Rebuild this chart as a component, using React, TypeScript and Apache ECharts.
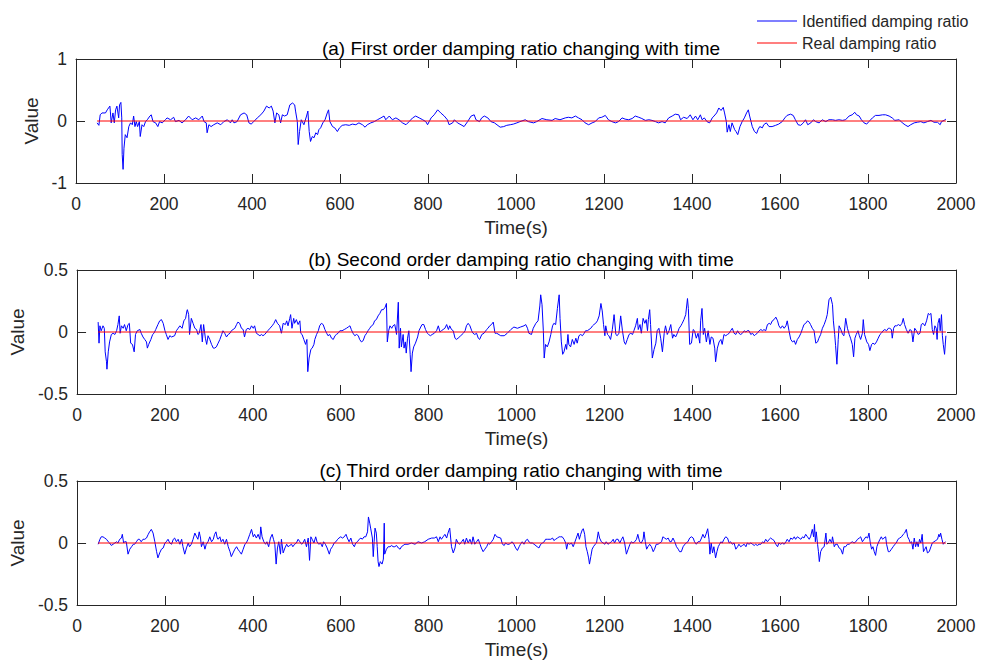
import React, { useEffect, useRef } from "react";
import * as echarts from "echarts";

const panelTitles = [
  "(a) First order damping ratio changing with time",
  "(b) Second order damping ratio changing with time",
  "(c) Third order damping ratio changing with time",
];
const xTicks = { min: 0, max: 2000, interval: 200 };
const yRanges = [
  { min: -1, max: 1, interval: 1 },
  { min: -0.5, max: 0.5, interval: 0.5 },
  { min: -0.5, max: 0.5, interval: 0.5 },
];
const realTimes = [48, 1977];
const realValue = 0;

const identifiedA: number[][] = [
  [48, -0.03], [52, -0.07], [55, 0.10], [59, 0.13], [67, 0.13], [71, 0.18], [74, 0.21], [77, 0.24], [78, 0.16], [80, -0.03], [84, 0.13], [87, -0.03], [90, 0.18], [93, 0.24], [97, 0.05], [99, 0.26], [102, 0.30], [104, 0.05], [105, -0.54], [107, -0.78], [109, -0.44], [112, -0.22], [116, -0.27], [120, -0.09], [124, -0.03], [128, -0.06], [131, 0.08], [134, -0.09], [137, -0.01], [140, -0.09], [144, -0.01], [146, -0.25], [150, -0.06], [154, -0.09], [158, -0.01], [162, 0.02], [168, 0.08], [171, 0.10], [175, -0.01], [181, -0.03], [186, -0.09], [190, -0.01], [196, -0.03], [203, 0.02], [207, 0.05], [215, 0.02], [222, 0.06], [226, -0.01], [234, 0.01], [241, -0.03], [249, 0.02], [256, 0.08], [264, 0.02], [272, 0.05], [279, 0.02], [287, 0.08], [291, -0.01], [296, -0.03], [298, -0.19], [302, -0.06], [307, -0.09], [313, -0.06], [321, -0.03], [329, -0.06], [336, -0.01], [344, 0.02], [351, -0.03], [355, 0.02], [359, -0.03], [366, -0.01], [374, 0.10], [382, 0.13], [388, 0.10], [393, -0.03], [398, -0.05], [404, -0.01], [412, 0.05], [420, 0.10], [427, 0.16], [433, 0.24], [439, 0.21], [444, 0.24], [448, 0.16], [452, -0.03], [456, 0.13], [461, 0.10], [465, -0.03], [469, 0.10], [474, 0.08], [480, 0.10], [486, 0.26], [492, 0.29], [497, 0.26], [499, 0.16], [503, -0.01], [505, -0.38], [508, -0.17], [512, 0.02], [518, -0.06], [524, 0.08], [527, 0.16], [530, -0.17], [533, -0.33], [537, -0.25], [541, -0.27], [545, -0.19], [549, -0.22], [552, -0.14], [556, -0.11], [561, -0.03], [566, 0.02], [571, 0.13], [574, 0.18], [577, -0.01], [583, -0.09], [588, -0.11], [594, -0.17], [599, -0.11], [605, -0.07], [613, -0.06], [621, -0.07], [628, -0.05], [636, -0.06], [643, -0.03], [651, -0.06], [657, -0.10], [662, -0.06], [670, -0.03], [678, -0.01], [685, 0.02], [693, 0.05], [700, 0.08], [704, 0.02], [712, 0.08], [719, 0.02], [727, 0.05], [734, 0.02], [742, -0.03], [750, -0.06], [757, -0.01], [765, 0.05], [772, 0.08], [780, 0.05], [788, 0.02], [795, -0.01], [799, -0.06], [807, 0.05], [814, 0.10], [822, 0.18], [829, 0.13], [837, 0.08], [844, 0.02], [848, -0.06], [856, -0.03], [860, 0.02], [867, -0.03], [875, -0.06], [882, -0.09], [890, -0.01], [898, 0.08], [905, 0.10], [909, 0.02], [917, -0.01], [922, 0.05], [928, 0.08], [936, 0.05], [943, -0.01], [951, -0.03],
  [964, -0.10], [972, -0.09], [979, -0.07], [987, -0.06], [994, -0.05], [1002, -0.03], [1009, -0.01], [1021, 0.02], [1028, -0.01], [1040, -0.03], [1047, -0.01], [1059, 0.04], [1070, 0.02], [1082, 0.01], [1089, 0.04], [1100, 0.02], [1112, 0.05], [1119, 0.06], [1127, 0.05], [1135, 0.08], [1142, 0.05], [1150, 0.02], [1157, -0.03], [1165, -0.06], [1173, -0.03], [1180, -0.01], [1188, 0.05], [1195, 0.06], [1203, 0.09], [1210, 0.02], [1218, -0.01], [1226, -0.03], [1233, -0.01], [1241, 0.05], [1248, 0.03], [1256, 0.02], [1264, 0.04], [1271, 0.08], [1279, 0.06], [1286, 0.04], [1294, 0.01], [1302, 0.02], [1309, 0.01], [1317, -0.01], [1324, -0.03], [1332, -0.01], [1339, -0.03], [1347, 0.05], [1355, 0.08], [1362, 0.11], [1370, 0.10], [1374, 0.02], [1381, 0.06], [1389, 0.04], [1396, 0.10], [1402, 0.02], [1408, 0.08], [1413, 0.02], [1419, 0.10], [1423, 0.02], [1428, 0.05], [1434, -0.01], [1440, -0.03], [1446, 0.05], [1450, 0.08], [1456, 0.13], [1461, 0.21], [1466, 0.17], [1471, 0.22], [1474, 0.13], [1478, -0.01], [1480, -0.18], [1484, -0.06], [1487, -0.17], [1491, -0.03], [1497, -0.14], [1500, -0.17], [1504, -0.22], [1509, -0.09], [1514, -0.01], [1519, 0.05], [1524, 0.13], [1528, 0.18], [1531, 0.08], [1537, -0.09], [1542, -0.17], [1547, -0.20], [1550, -0.14], [1554, -0.09], [1560, -0.11], [1563, -0.06], [1569, -0.03], [1575, -0.09], [1582, -0.09], [1590, -0.07], [1597, -0.05], [1605, -0.01], [1611, 0.05], [1616, 0.09], [1624, 0.11], [1630, 0.09], [1635, 0.02], [1641, -0.06], [1647, -0.07], [1653, -0.03], [1658, 0.02], [1663, -0.06], [1670, -0.03], [1676, 0.02], [1681, -0.01], [1689, -0.03], [1696, 0.02], [1704, -0.01], [1711, 0.02], [1719, 0.02], [1726, 0.01], [1734, 0.02], [1742, 0.01], [1749, 0.02], [1757, 0.08], [1764, 0.10], [1770, 0.14], [1774, 0.10], [1780, 0.08], [1785, 0.02], [1791, -0.03], [1797, -0.05], [1802, -0.01], [1810, 0.05], [1817, 0.09], [1825, 0.09], [1833, 0.10], [1840, 0.10], [1848, 0.08], [1855, 0.05], [1861, 0.01], [1871, 0.02], [1878, -0.03], [1886, -0.07], [1891, -0.09], [1897, -0.06], [1905, -0.03], [1912, -0.02], [1920, -0.01], [1927, -0.03], [1935, -0.01], [1943, 0.01], [1950, -0.02], [1958, -0.02], [1964, -0.06], [1967, -0.01], [1973, 0.01], [1977, 0.03],
];

const identifiedB: number[][] = [
  [48, 0.08], [50, -0.09], [52, 0.05], [55, 0.01], [57, 0.03], [59, 0.05], [62, 0.03], [64, -0.16], [67, -0.24], [68, -0.30], [71, -0.16], [74, -0.08], [78, -0.02], [82, -0.01], [86, -0.02], [90, 0.01], [93, 0.06], [96, 0.13], [98, -0.01], [101, 0.05], [105, 0.03], [108, 0.06], [112, 0.01], [116, 0.06], [119, 0.07], [122, -0.09], [126, -0.10], [130, -0.16], [133, -0.02], [137, 0.01], [143, 0.02], [146, -0.01], [150, -0.04], [154, -0.06], [158, -0.08], [160, -0.13], [163, -0.10], [168, -0.06], [172, -0.02], [175, -0.01], [179, 0.02], [184, 0.06], [188, 0.09], [192, 0.10], [196, 0.07], [200, 0.01], [203, -0.02], [207, -0.06], [211, -0.03], [215, -0.04], [222, -0.03], [226, 0.01], [230, 0.03], [234, 0.05], [239, 0.03], [243, 0.09], [247, 0.11], [250, 0.17], [251, 0.18], [254, 0.14], [256, -0.02], [260, 0.11], [264, 0.07], [268, 0.03], [272, 0.02], [275, -0.02], [278, -0.01], [282, 0.06], [285, -0.08], [288, 0.06], [292, -0.05], [295, -0.10], [298, -0.03], [302, -0.06], [306, -0.10], [310, -0.13], [313, -0.13], [317, -0.12], [321, -0.09], [325, -0.06], [329, -0.02], [332, 0.01], [336, -0.01], [340, -0.04], [344, -0.02], [348, -0.01], [351, 0.01], [355, 0.02], [359, 0.03], [363, 0.06], [366, 0.08], [370, 0.07], [374, 0.03], [378, 0.02], [381, -0.04], [385, 0.02], [389, 0.03], [393, 0.02], [397, 0.05], [401, 0.03], [404, 0.05], [408, -0.01], [412, -0.02], [416, -0.03], [420, -0.02], [423, -0.03], [427, -0.02], [434, 0.01], [439, 0.03], [444, 0.05], [448, 0.07], [452, 0.10], [456, 0.07], [461, 0.05], [465, -0.01], [469, 0.07], [474, 0.06], [477, 0.09], [480, 0.05], [484, 0.11], [486, 0.14], [489, 0.03], [493, 0.11], [495, 0.07], [499, 0.10], [503, 0.06], [507, 0.09], [509, -0.01], [512, -0.02], [516, -0.06], [520, -0.10], [523, -0.06], [525, -0.32], [528, -0.21], [532, -0.14], [535, -0.13], [539, -0.10], [541, -0.06], [545, -0.02], [549, 0.01], [552, 0.05], [556, 0.07], [560, 0.06], [564, 0.02], [568, -0.01], [571, -0.03], [575, -0.02], [579, -0.05], [583, -0.06], [587, -0.03], [590, -0.02], [594, -0.01], [598, 0.01], [603, 0.01], [608, 0.02], [613, 0.03], [617, 0.04], [621, 0.05], [624, 0.02], [628, -0.01], [632, -0.03], [636, -0.02], [640, -0.03], [643, -0.06], [647, -0.08], [651, -0.07], [655, -0.03], [659, -0.01], [662, 0.01], [666, 0.03], [670, 0.05], [674, 0.06], [677, 0.09], [681, 0.10], [685, 0.13], [689, 0.15], [693, 0.18], [697, 0.18], [701, 0.20], [704, 0.23], [706, -0.08], [709, 0.01], [712, 0.05], [716, 0.03], [719, 0.05], [723, 0.06], [727, -0.02], [731, 0.24], [733, -0.13], [736, 0.03], [738, -0.12], [742, -0.02], [744, -0.13], [747, -0.08], [749, -0.17], [752, -0.05], [755, 0.01], [758, -0.18], [760, -0.32], [763, -0.17], [766, -0.12], [770, -0.09], [775, -0.04], [778, 0.01], [782, 0.04], [785, 0.06], [789, 0.06], [793, 0.02], [797, -0.01], [800, -0.02], [804, -0.03], [808, -0.02], [813, -0.01], [818, 0.01], [822, 0.05], [826, 0.00], [829, 0.01], [833, 0.02], [837, 0.03], [841, 0.06], [845, 0.02], [848, 0.05], [852, 0.02], [856, 0.01], [860, -0.05], [863, -0.06], [867, -0.05], [873, -0.03], [879, -0.01], [883, 0.01], [886, 0.05], [890, 0.07], [894, 0.05], [898, 0.01], [901, -0.01], [905, -0.02], [909, -0.01], [913, -0.05], [916, -0.06], [921, -0.02], [926, -0.01], [932, 0.02], [935, 0.03], [939, 0.05], [943, 0.06], [947, 0.08], [951, -0.01], [955, -0.01],
  [964, -0.03], [972, -0.03], [979, -0.01], [987, 0.02], [994, 0.04], [1002, 0.03], [1009, 0.04], [1017, 0.05], [1021, 0.06], [1025, 0.03], [1028, -0.01], [1034, -0.02], [1038, 0.03], [1044, 0.07], [1049, 0.09], [1053, 0.21], [1055, 0.30], [1058, 0.22], [1061, 0.01], [1063, -0.21], [1066, -0.10], [1070, -0.12], [1074, -0.08], [1078, -0.02], [1082, 0.05], [1085, 0.07], [1089, 0.06], [1093, 0.19], [1097, 0.30], [1099, 0.11], [1102, -0.08], [1105, -0.18], [1108, -0.16], [1112, -0.10], [1114, -0.14], [1117, -0.02], [1119, -0.10], [1123, -0.12], [1127, -0.06], [1131, -0.10], [1135, -0.05], [1138, -0.09], [1142, -0.03], [1146, -0.02], [1150, -0.03], [1154, -0.01], [1157, 0.01], [1161, 0.01], [1165, 0.02], [1169, 0.03], [1173, 0.05], [1176, 0.06], [1180, 0.07], [1184, 0.09], [1188, 0.13], [1192, 0.23], [1195, 0.17], [1198, 0.06], [1201, -0.03], [1203, 0.05], [1207, -0.02], [1210, -0.03], [1214, -0.06], [1218, 0.02], [1222, 0.14], [1226, -0.02], [1229, -0.03], [1233, -0.01], [1237, 0.13], [1241, 0.01], [1245, -0.08], [1248, -0.10], [1252, -0.06], [1256, -0.02], [1260, -0.01], [1264, -0.02], [1267, 0.01], [1271, 0.05], [1275, 0.11], [1277, 0.02], [1281, 0.06], [1284, -0.01], [1288, 0.11], [1292, 0.07], [1295, 0.10], [1298, 0.01], [1300, 0.10], [1303, 0.18], [1305, 0.06], [1309, -0.21], [1313, -0.14], [1317, -0.09], [1320, 0.01], [1324, 0.03], [1328, -0.05], [1332, -0.16], [1336, -0.01], [1339, 0.05], [1343, -0.02], [1347, 0.01], [1351, 0.06], [1355, -0.05], [1358, -0.02], [1362, -0.04], [1366, -0.01], [1370, 0.03], [1374, 0.05], [1377, 0.07], [1381, 0.10], [1385, 0.14], [1389, 0.27], [1391, 0.19], [1394, -0.10], [1398, -0.09], [1402, 0.02], [1405, 0.01], [1409, -0.05], [1413, -0.01], [1417, -0.09], [1419, 0.09], [1422, 0.19], [1425, -0.02], [1428, 0.03], [1432, -0.08], [1436, 0.01], [1440, -0.10], [1443, -0.04], [1447, -0.05], [1451, -0.13], [1453, -0.24], [1457, -0.13], [1461, -0.08], [1465, -0.06], [1468, -0.10], [1472, -0.02], [1476, -0.03], [1480, -0.02], [1484, -0.01], [1487, 0.01], [1491, 0.03], [1495, -0.01], [1499, -0.02], [1503, 0.01], [1506, -0.01], [1510, -0.02], [1514, -0.01], [1518, 0.01], [1522, 0.00], [1525, 0.01], [1529, 0.01], [1533, -0.02], [1537, -0.01], [1541, -0.03], [1544, -0.02], [1548, -0.01], [1552, 0.01], [1556, 0.02], [1560, 0.01], [1563, 0.02], [1567, 0.01], [1571, 0.06], [1575, 0.07], [1578, 0.06], [1582, 0.09], [1586, 0.10], [1590, 0.12], [1594, 0.09], [1597, 0.05], [1601, 0.03], [1605, 0.05], [1609, 0.03], [1613, 0.05], [1616, 0.09], [1620, 0.01], [1624, -0.06], [1628, -0.08], [1632, -0.07], [1635, -0.10], [1639, -0.06], [1643, -0.04], [1647, -0.01], [1651, 0.03], [1654, 0.06], [1658, 0.07], [1662, 0.09], [1666, 0.08], [1669, 0.06], [1673, 0.03], [1677, 0.01], [1681, -0.09], [1685, -0.08], [1688, -0.05], [1692, -0.02], [1696, 0.03], [1700, 0.06], [1704, 0.10], [1707, 0.14], [1711, 0.26], [1715, 0.28], [1719, 0.22], [1721, 0.09], [1724, -0.02], [1726, -0.11], [1729, -0.26], [1732, -0.06], [1734, 0.05], [1738, 0.02], [1742, -0.02], [1745, -0.03], [1749, 0.11], [1753, 0.03], [1757, -0.02], [1760, -0.05], [1764, -0.10], [1767, -0.20], [1770, -0.05], [1773, -0.02], [1777, 0.01], [1780, -0.03], [1783, -0.06], [1787, -0.01], [1789, 0.10], [1792, -0.02], [1797, -0.08], [1801, -0.10], [1804, -0.15], [1808, -0.10], [1811, -0.09], [1815, -0.10], [1819, -0.08], [1823, -0.05], [1827, -0.02], [1830, -0.01], [1834, 0.01], [1838, 0.02], [1842, 0.01], [1846, 0.03], [1849, 0.03], [1853, 0.02], [1855, -0.05], [1858, 0.03], [1861, 0.05], [1865, 0.05], [1869, 0.06], [1873, 0.05], [1877, 0.07], [1880, 0.11], [1883, 0.06], [1887, 0.02], [1891, -0.01], [1895, 0.02], [1899, 0.01], [1902, -0.08], [1906, 0.03], [1910, 0.01], [1914, -0.02], [1918, -0.01], [1921, 0.06], [1925, 0.07], [1929, 0.05], [1933, 0.09], [1937, 0.15], [1940, 0.14], [1943, 0.15], [1946, 0.02], [1949, -0.02], [1952, 0.05], [1955, 0.03], [1957, -0.06], [1959, 0.07], [1962, 0.11], [1964, 0.01], [1967, 0.14], [1969, -0.03], [1971, -0.10], [1974, -0.18], [1977, -0.03],
];

const identifiedC: number[][] = [
  [48, -0.01], [52, 0.03], [55, 0.05], [59, 0.05], [63, 0.04], [67, 0.03], [71, 0.01], [74, 0.00], [78, -0.02], [82, -0.01], [86, 0.00], [90, 0.01], [93, 0.00], [97, 0.03], [101, 0.04], [103, 0.07], [106, 0.00], [108, 0.01], [112, 0.01], [116, -0.09], [120, -0.05], [124, -0.03], [128, -0.01], [131, -0.01], [135, 0.01], [139, 0.03], [142, 0.03], [146, 0.01], [150, 0.03], [154, 0.03], [158, 0.04], [162, 0.07], [165, 0.09], [169, 0.11], [173, 0.08], [177, 0.01], [181, -0.07], [184, -0.12], [188, -0.08], [192, -0.05], [196, -0.04], [200, 0.00], [203, 0.01], [207, 0.03], [211, 0.00], [215, -0.01], [219, 0.03], [222, 0.04], [226, 0.01], [230, 0.03], [234, -0.01], [238, 0.03], [241, -0.03], [245, -0.09], [249, -0.04], [253, 0.00], [256, -0.03], [260, -0.01], [264, 0.03], [268, 0.08], [272, 0.05], [275, 0.03], [278, 0.09], [281, 0.04], [283, -0.03], [287, 0.01], [291, -0.05], [294, -0.01], [298, 0.01], [302, 0.05], [306, 0.01], [310, 0.03], [313, 0.07], [316, 0.09], [319, 0.04], [321, 0.03], [325, 0.05], [328, 0.01], [332, 0.03], [336, -0.01], [340, 0.03], [344, -0.03], [348, -0.07], [351, -0.11], [355, -0.08], [359, -0.05], [363, -0.03], [366, -0.05], [370, -0.07], [374, -0.09], [378, -0.05], [382, -0.01], [385, 0.00], [389, 0.03], [393, 0.07], [397, 0.11], [401, 0.05], [404, 0.07], [408, 0.04], [412, 0.07], [416, 0.03], [418, 0.13], [421, 0.05], [425, 0.01], [429, -0.01], [432, 0.01], [436, -0.03], [440, 0.04], [444, 0.07], [447, 0.03], [450, -0.01], [453, -0.17], [456, -0.04], [459, 0.01], [463, -0.09], [465, 0.03], [469, -0.08], [473, -0.04], [477, -0.01], [480, -0.03], [484, -0.02], [488, -0.01], [491, -0.03], [495, -0.01], [499, 0.00], [503, 0.03], [507, 0.01], [511, -0.01], [514, 0.00], [518, 0.03], [522, -0.03], [526, 0.04], [529, -0.14], [532, 0.05], [535, 0.03], [539, 0.00], [543, 0.05], [546, 0.01], [550, -0.01], [554, 0.00], [558, -0.03], [561, 0.01], [565, -0.01], [569, -0.04], [574, -0.09], [577, -0.05], [581, -0.03], [585, 0.00], [589, 0.01], [593, 0.03], [596, 0.04], [600, 0.05], [604, 0.04], [608, 0.05], [612, 0.07], [615, 0.04], [619, 0.01], [623, 0.04], [627, -0.01], [631, -0.03], [634, 0.00], [638, 0.01], [642, 0.03], [646, 0.04], [649, 0.03], [653, 0.05], [657, 0.05], [661, 0.09], [663, 0.21], [666, 0.16], [668, 0.12], [672, 0.04], [674, -0.11], [676, 0.01], [678, 0.12], [681, 0.08], [683, -0.03], [685, -0.15], [687, -0.19], [690, -0.15], [694, -0.17], [697, -0.13], [699, 0.16], [700, -0.09], [704, -0.05], [708, -0.03], [712, -0.03], [716, -0.02], [719, -0.03], [723, -0.03], [727, -0.02], [731, -0.04], [735, -0.05], [738, -0.03], [742, -0.02], [746, -0.01], [753, -0.01], [761, 0.00], [769, -0.01], [776, 0.01], [784, 0.00], [791, 0.01], [799, 0.03], [807, 0.04], [813, 0.04], [818, 0.05], [822, 0.01], [826, 0.05], [829, 0.03], [833, 0.05], [837, 0.07], [841, 0.04], [844, 0.08], [848, 0.12], [852, -0.03], [856, -0.08], [860, -0.04], [863, 0.03], [867, 0.00], [871, -0.01], [875, 0.01], [879, 0.03], [882, -0.01], [886, 0.04], [890, 0.00], [894, 0.03], [898, -0.01], [901, 0.05], [905, -0.01], [909, 0.01], [913, 0.03], [917, -0.01], [920, -0.04], [924, -0.07], [928, -0.05], [932, -0.03], [936, 0.00], [939, -0.01], [943, 0.01], [947, 0.03], [951, 0.07], [955, 0.05],
  [964, 0.04], [968, -0.01], [972, -0.02], [975, 0.00], [979, -0.01], [983, -0.01], [987, 0.00], [990, 0.01], [994, -0.01], [998, -0.04], [1002, -0.06], [1006, -0.03], [1009, -0.01], [1013, 0.01], [1017, -0.01], [1021, 0.02], [1025, 0.03], [1028, 0.01], [1032, 0.00], [1036, 0.00], [1040, -0.01], [1047, -0.03], [1051, -0.04], [1055, -0.01], [1059, 0.00], [1063, 0.01], [1066, 0.03], [1070, 0.03], [1078, 0.03], [1082, 0.04], [1085, 0.02], [1089, 0.03], [1093, 0.04], [1097, 0.05], [1100, 0.05], [1104, 0.05], [1108, 0.03], [1112, 0.00], [1114, -0.05], [1117, 0.00], [1121, -0.01], [1125, 0.00], [1129, -0.03], [1132, 0.00], [1136, 0.04], [1140, 0.08], [1143, 0.03], [1146, 0.07], [1150, 0.11], [1152, 0.115], [1155, 0.07], [1158, -0.03], [1161, -0.07], [1164, -0.12], [1166, -0.17], [1169, -0.11], [1172, -0.05], [1175, -0.03], [1179, -0.01], [1182, 0.00], [1186, 0.09], [1189, 0.04], [1193, 0.01], [1197, 0.00], [1201, -0.01], [1204, 0.01], [1208, -0.01], [1212, 0.00], [1216, 0.01], [1220, 0.03], [1223, 0.00], [1227, 0.03], [1231, 0.03], [1235, 0.00], [1239, 0.03], [1242, 0.05], [1246, 0.00], [1250, -0.09], [1254, -0.05], [1258, -0.01], [1261, 0.01], [1265, 0.00], [1269, 0.01], [1273, 0.03], [1276, 0.07], [1280, 0.01], [1284, 0.00], [1288, 0.03], [1290, 0.09], [1293, 0.01], [1296, -0.05], [1299, -0.03], [1303, -0.01], [1307, -0.03], [1311, -0.07], [1314, -0.05], [1318, -0.01], [1322, -0.01], [1326, 0.00], [1330, 0.01], [1333, 0.05], [1337, 0.04], [1341, 0.03], [1345, 0.04], [1349, 0.01], [1352, 0.01], [1356, 0.04], [1360, 0.01], [1364, -0.03], [1368, -0.05], [1371, -0.07], [1375, -0.07], [1379, -0.03], [1383, -0.01], [1386, 0.00], [1390, 0.01], [1394, 0.04], [1398, 0.05], [1402, 0.04], [1405, 0.01], [1409, -0.01], [1413, 0.01], [1417, 0.01], [1421, 0.04], [1424, 0.07], [1428, 0.04], [1432, 0.08], [1435, 0.115], [1438, 0.03], [1440, -0.09], [1443, 0.00], [1446, -0.08], [1449, -0.03], [1453, -0.12], [1456, -0.07], [1459, -0.03], [1462, -0.01], [1465, 0.01], [1468, 0.00], [1472, 0.03], [1476, 0.05], [1480, 0.04], [1484, 0.00], [1487, 0.01], [1491, -0.01], [1495, 0.00], [1499, -0.05], [1503, -0.03], [1506, -0.01], [1510, -0.03], [1514, -0.02], [1518, -0.01], [1522, -0.03], [1525, 0.00], [1529, -0.01], [1533, 0.00], [1537, -0.01], [1541, -0.02], [1544, -0.01], [1548, -0.02], [1552, -0.01], [1556, -0.01], [1560, 0.01], [1563, 0.00], [1567, 0.03], [1571, 0.01], [1575, 0.03], [1578, 0.04], [1582, 0.03], [1586, 0.02], [1590, -0.01], [1594, -0.03], [1597, 0.00], [1601, -0.01], [1605, 0.00], [1609, -0.01], [1613, 0.01], [1616, 0.03], [1620, 0.01], [1624, 0.04], [1628, 0.03], [1632, 0.05], [1635, 0.03], [1639, 0.05], [1643, 0.04], [1647, 0.03], [1651, 0.05], [1654, 0.04], [1658, 0.07], [1662, 0.05], [1666, 0.03], [1669, 0.05], [1673, 0.11], [1676, 0.05], [1678, 0.15], [1680, 0.01], [1682, 0.09], [1685, -0.01], [1687, -0.07], [1689, -0.15], [1692, -0.07], [1696, -0.04], [1700, -0.03], [1704, 0.08], [1706, -0.01], [1709, 0.00], [1713, 0.03], [1717, 0.00], [1719, 0.05], [1723, -0.03], [1726, -0.01], [1730, -0.01], [1734, -0.04], [1738, -0.05], [1742, -0.09], [1745, -0.03], [1749, -0.03], [1753, -0.01], [1757, -0.01], [1760, 0.00], [1764, 0.01], [1768, 0.00], [1772, 0.01], [1776, 0.03], [1780, 0.04], [1783, 0.05], [1787, 0.01], [1791, 0.03], [1795, 0.05], [1799, 0.04], [1802, 0.08], [1805, 0.00], [1808, -0.05], [1811, -0.03], [1814, -0.07], [1817, -0.10], [1820, -0.03], [1823, 0.00], [1827, 0.03], [1830, 0.05], [1833, 0.03], [1836, 0.04], [1840, 0.05], [1842, -0.01], [1846, -0.07], [1849, -0.07], [1853, -0.05], [1857, -0.03], [1861, -0.01], [1864, 0.00], [1868, 0.03], [1872, 0.04], [1876, 0.05], [1880, 0.07], [1883, 0.08], [1887, 0.11], [1890, 0.05], [1893, 0.03], [1896, 0.00], [1899, 0.01], [1902, -0.05], [1905, 0.04], [1908, -0.03], [1911, 0.01], [1914, -0.03], [1917, 0.03], [1920, 0.00], [1923, 0.07], [1926, -0.07], [1929, -0.05], [1932, -0.03], [1935, -0.08], [1939, -0.07], [1943, -0.03], [1946, 0.00], [1950, 0.01], [1954, 0.02], [1958, 0.03], [1961, 0.07], [1963, 0.05], [1965, 0.08], [1968, 0.03], [1971, -0.01], [1973, 0.00], [1976, 0.01],
];

const identifiedSeries = [identifiedA, identifiedB, identifiedC];
const legendNames = ["Identified damping ratio", "Real damping ratio"];

const FONT = "'Liberation Sans', Arial, sans-serif";
const AX = "#262626";
const gridTops = [59, 270, 481];
const gridLeft = 76;
const gridWidth = 880;
const gridHeight = 124;

export default function App() {
  const ref = useRef<HTMLDivElement>(null);
  useEffect(() => {
    if (!ref.current) return;
    const chart = echarts.init(ref.current, undefined, { renderer: "svg" });
    const grids: any[] = [];
    const xAxes: any[] = [];
    const yAxes: any[] = [];
    const series: any[] = [];
    const titles: any[] = [];
    const tickStyle = { show: true, inside: true, length: 9, lineStyle: { color: AX, width: 1 } };
    const lineStyle = { color: AX, width: 1 };
    for (let i = 0; i < 3; i++) {
      grids.push({ left: gridLeft, top: gridTops[i], width: gridWidth, height: gridHeight, containLabel: false });
      titles.push({
        text: panelTitles[i],
        left: gridLeft + gridWidth / 2,
        top: gridTops[i] - 25,
        textAlign: "center",
        textStyle: { fontFamily: FONT, fontSize: 19, fontWeight: "normal", color: "#000" },
      });
      xAxes.push({
        type: "value", gridIndex: i, position: "bottom", ...xTicks,
        name: "Time(s)", nameLocation: "middle", nameGap: 35,
        nameTextStyle: { fontFamily: FONT, fontSize: 19, color: AX },
        axisLine: { show: true, onZero: false, lineStyle },
        axisTick: tickStyle,
        axisLabel: { fontFamily: FONT, fontSize: 17.5, color: AX, margin: 12, formatter: (v: number) => String(v) },
        splitLine: { show: false },
      });
      xAxes.push({
        type: "value", gridIndex: i, position: "top", ...xTicks,
        axisLine: { show: true, onZero: false, lineStyle },
        axisTick: tickStyle,
        axisLabel: { show: false },
        splitLine: { show: false },
      });
      yAxes.push({
        type: "value", gridIndex: i, position: "left", ...yRanges[i],
        name: "Value", nameLocation: "middle", nameGap: 31, nameRotate: 90,
        nameTextStyle: { fontFamily: FONT, fontSize: 19, color: AX },
        axisLine: { show: true, onZero: false, lineStyle },
        axisTick: tickStyle,
        axisLabel: { fontFamily: FONT, fontSize: 17.5, color: AX, margin: 9, formatter: (v: number) => String(v) },
        splitLine: { show: false },
      });
      yAxes.push({
        type: "value", gridIndex: i, position: "right", ...yRanges[i],
        axisLine: { show: true, onZero: false, lineStyle },
        axisTick: tickStyle,
        axisLabel: { show: false },
        splitLine: { show: false },
      });
      series.push({
        name: legendNames[0], type: "line", xAxisIndex: 2 * i, yAxisIndex: 2 * i,
        data: identifiedSeries[i], showSymbol: false, symbol: "none",
        lineStyle: { color: "#0000ff", width: 1 }, itemStyle: { color: "#0000ff" },
        z: 2, clip: true,
      });
      series.push({
        name: legendNames[1], type: "line", xAxisIndex: 2 * i, yAxisIndex: 2 * i,
        data: realTimes.map((t) => [t, realValue]), showSymbol: false, symbol: "none",
        lineStyle: { color: "#ff0000", width: 1 }, itemStyle: { color: "#ff0000" },
        z: 3, clip: true,
      });
    }
    chart.setOption({
      animation: false,
      backgroundColor: "#ffffff",
      title: titles,
      legend: {
        data: legendNames, orient: "vertical", left: 752, top: 8,
        icon: "rect", itemWidth: 40, itemHeight: 1, itemGap: 6,
        textStyle: { fontFamily: FONT, fontSize: 16, color: AX, lineHeight: 16 },
        selectedMode: false,
      },
      grid: grids,
      xAxis: xAxes,
      yAxis: yAxes,
      series,
    });
    return () => chart.dispose();
  }, []);
  return <div ref={ref} style={{ width: 981, height: 663, position: "absolute", left: 0, top: 0 }} />;
}
